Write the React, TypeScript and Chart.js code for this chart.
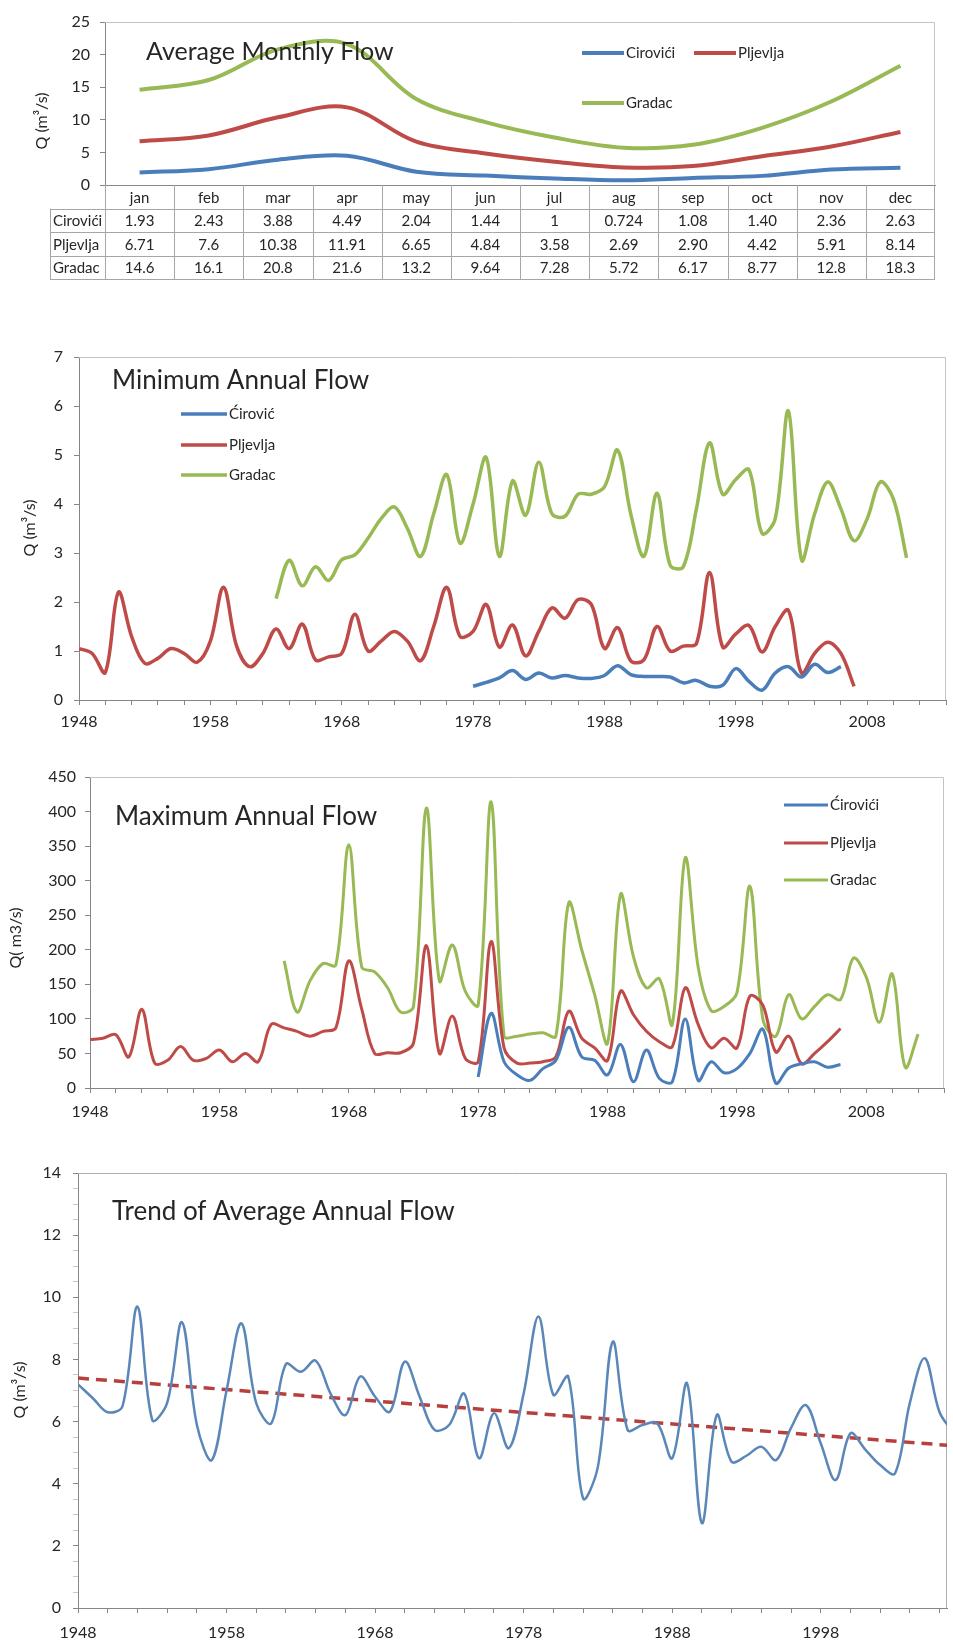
import React, { useEffect, useRef } from "react";
import { Chart, registerables } from "chart.js";

Chart.register(...registerables);

// ---------------- data ----------------
const months = ["jan", "feb", "mar", "apr", "may", "jun", "jul", "aug", "sep", "oct", "nov", "dec"];
const monthlyStations = ["Cirovići", "Pljevlja", "Gradac"];
const ciroviciMonthly = ["1.93", "2.43", "3.88", "4.49", "2.04", "1.44", "1", "0.724", "1.08", "1.40", "2.36", "2.63"];
const pljevljaMonthly = ["6.71", "7.6", "10.38", "11.91", "6.65", "4.84", "3.58", "2.69", "2.90", "4.42", "5.91", "8.14"];
const gradacMonthly = ["14.6", "16.1", "20.8", "21.6", "13.2", "9.64", "7.28", "5.72", "6.17", "8.77", "12.8", "18.3"];

const yearTickLabels = [1948, 1958, 1968, 1978, 1988, 1998, 2008];

const minStations = ["Ćirović", "Pljevlja", "Gradac"];
const minCirovicStart = 1978;
const minCirovic = [
  0.28, 0.36, 0.45, 0.6, 0.42, 0.55, 0.45, 0.5, 0.45, 0.44,
  0.5, 0.7, 0.52, 0.48, 0.48, 0.47, 0.35, 0.4, 0.28, 0.3,
  0.64, 0.38, 0.2, 0.55, 0.68, 0.47, 0.73, 0.56, 0.68,
];
const minPljevljaStart = 1948;
const minPljevlja = [
  1.05, 0.95, 0.56, 2.2, 1.3, 0.75, 0.85, 1.05, 0.95, 0.77,
  1.2, 2.3, 1.1, 0.68, 0.95, 1.45, 1.05, 1.55, 0.82, 0.88,
  0.95, 1.75, 1.0, 1.2, 1.4, 1.2, 0.8, 1.5, 2.3, 1.3,
  1.4, 1.95, 1.08, 1.53, 0.9, 1.4, 1.88, 1.67, 2.05, 1.95,
  1.05, 1.48, 0.8, 0.82, 1.5, 1.0, 1.1, 1.15, 2.6, 1.08,
  1.35, 1.52, 0.98, 1.5, 1.83, 0.55, 0.95, 1.18, 0.95, 0.28,
];
const minGradacStart = 1963;
const minGradac = [
  2.07, 2.85, 2.33, 2.72, 2.44, 2.86, 2.96, 3.3, 3.7, 3.94,
  3.5, 2.93, 3.8, 4.6, 3.2, 4.0, 4.95, 2.93, 4.47, 3.77,
  4.85, 3.8, 3.75, 4.2, 4.2, 4.35, 5.1, 3.8, 2.93, 4.22,
  2.75, 2.72, 3.9, 5.25, 4.2, 4.5, 4.7, 3.4, 3.7, 5.9,
  2.86, 3.8, 4.45, 3.9, 3.25, 3.7, 4.45, 4.1, 2.9,
];

const maxStations = ["Ćirovići", "Pljevlja", "Gradac"];
const maxCirovicStart = 1978;
const maxCirovic = [
  16, 108, 38, 19, 11, 28, 40, 88, 45, 40,
  19, 63, 9, 55, 14, 9, 100, 11, 38, 22,
  28, 50, 85, 7, 29, 35, 38, 30, 34,
];
const maxPljevljaStart = 1948;
const maxPljevlja = [
  70, 72, 77, 45, 114, 36, 40, 60, 40, 43,
  55, 38, 50, 38, 92, 87, 82, 75, 82, 87,
  184, 114, 50, 51, 51, 65, 206, 50, 104, 43,
  38, 212, 58, 36, 36, 38, 45, 111, 72, 58,
  40, 140, 106, 82, 67, 60, 145, 92, 58, 72,
  58, 133, 120, 52, 75, 35, 50, 67, 86,
];
const maxGradacStart = 1963;
const maxGradac = [
  184, 110, 155, 180, 178, 352, 175, 168, 145, 110,
  118, 405, 155, 207, 140, 120, 414, 75, 75, 78,
  80, 75, 268, 200, 135, 65, 280, 190, 145, 158,
  92, 333, 175, 112, 118, 138, 292, 100, 75, 135,
  100, 118, 135, 128, 188, 160, 95, 165, 30, 78,
];

const avgLabel = "Average annual flow";
const avgStart = 1948;
const avgAnnual = [
  7.2, 6.75, 6.3, 6.5, 9.7, 6.05, 6.6, 9.2, 5.9, 4.76,
  7.0, 9.16, 6.59, 5.94, 7.85, 7.6, 7.96, 6.9, 6.21, 7.45,
  6.8, 6.32, 7.93, 6.8, 5.73, 5.9, 6.9, 4.82, 6.27, 5.14,
  6.9, 9.38, 6.86, 7.45, 3.53, 4.55, 8.57, 5.73, 5.89, 5.94,
  4.82, 7.23, 2.73, 6.21, 4.71, 4.9, 5.19, 4.76, 5.8, 6.53,
  5.3, 4.12, 5.62, 5.1, 4.6, 4.33, 6.6, 8.04, 6.3, 5.6,
];
const trendLabel = "Linear trend";
const trendYears = [1948, 2007];
const trendValues = [7.4, 5.22];

// ---------------- style ----------------
const FONT = "Lato, 'Open Sans', 'DejaVu Sans', sans-serif";
const TEXT = "#262626";
const AXIS = "#868686";
const FRAME = "#c4c4c4";
const BLUE = "#4A7EBB";
const RED = "#BE4B48";
const GREEN = "#98B954";
const PAGE_W = 953;

const pts = (start: number, vals: number[]) => vals.map((v, i) => ({ x: start + i, y: v }));

const decor = {
  id: "decor",
  beforeDatasetsDraw(chart: any, _a: any, o: any) {
    const { ctx, chartArea: a } = chart;
    ctx.save();
    ctx.strokeStyle = o.frame || FRAME;
    ctx.lineWidth = 1;
    ctx.beginPath();
    ctx.moveTo(a.left, Math.round(a.top) + 0.5);
    ctx.lineTo(Math.round(a.right) - 0.5, Math.round(a.top) + 0.5);
    ctx.lineTo(Math.round(a.right) - 0.5, a.bottom);
    ctx.stroke();
    ctx.restore();
  },
  afterDraw(chart: any, _a: any, o: any) {
    const ctx = chart.ctx;
    ctx.save();
    ctx.fillStyle = TEXT;
    if (o.title) {
      ctx.font = `${o.title.size}px ${FONT}`;
      ctx.textAlign = "left";
      ctx.textBaseline = "middle";
      ctx.fillText(o.title.text, o.title.x, o.title.y);
    }
    if (o.yTitle) {
      ctx.save();
      ctx.translate(o.yTitle.x, o.yTitle.y);
      ctx.rotate(-Math.PI / 2);
      ctx.font = `${o.yTitle.size}px ${FONT}`;
      ctx.textAlign = "center";
      ctx.textBaseline = "middle";
      ctx.fillText(o.yTitle.text, 0, 0);
      ctx.restore();
    }
    (o.legend || []).forEach((p: any, i: number) => {
      const ds = chart.data.datasets[i];
      ctx.strokeStyle = ds.borderColor;
      ctx.lineWidth = p.w;
      ctx.lineCap = "butt";
      ctx.beginPath();
      ctx.moveTo(p.x, p.y);
      ctx.lineTo(p.x + p.len, p.y);
      ctx.stroke();
      ctx.fillStyle = TEXT;
      ctx.font = `${p.size}px ${FONT}`;
      ctx.textAlign = "left";
      ctx.textBaseline = "middle";
      ctx.fillText(ds.label, p.x + p.len + 2, p.y);
    });
    if (o.table) {
      const t = o.table;
      const a = chart.chartArea;
      const xs = chart.scales.x;
      const n = chart.data.labels.length;
      const colW = (a.right - a.left) / n;
      const top = a.bottom;
      const rows = t.rows;
      const bottom = top + t.rowH * (rows.length + 1);
      ctx.strokeStyle = t.line;
      ctx.lineWidth = 1;
      ctx.beginPath();
      for (let r = 1; r <= rows.length + 1; r++) {
        const y = Math.round(top + r * t.rowH) + 0.5;
        ctx.moveTo(t.left, y);
        ctx.lineTo(a.right, y);
      }
      for (let c = 0; c <= n; c++) {
        const x = Math.round(a.left + c * colW) - (c === n ? 0.5 : -0.5);
        ctx.moveTo(x, top);
        ctx.lineTo(x, bottom);
      }
      ctx.moveTo(t.left + 0.5, top + t.rowH);
      ctx.lineTo(t.left + 0.5, bottom);
      ctx.stroke();
      ctx.fillStyle = TEXT;
      ctx.font = `${t.size}px ${FONT}`;
      ctx.textBaseline = "middle";
      ctx.textAlign = "center";
      chart.data.labels.forEach((m: string, i: number) => ctx.fillText(m, xs.getPixelForValue(i), top + t.rowH / 2 + 1));
      rows.forEach((row: any, r: number) => {
        const cy = top + t.rowH * (r + 1.5) + 1;
        ctx.textAlign = "left";
        ctx.fillText(row.label, t.left + 3, cy);
        ctx.textAlign = "center";
        row.texts.forEach((s: string, i: number) => ctx.fillText(s, xs.getPixelForValue(i), cy));
      });
    }
    ctx.restore();
  },
};

type Area = { left: number; right: number; top: number; bottom: number };

function baseOptions(area: Area, canvasTop: number, H: number) {
  return {
    layout: { padding: { left: 0, right: PAGE_W - area.right, top: area.top - canvasTop, bottom: 0 } },
    xFit: (s: any) => {
      s.height = H - (area.bottom - canvasTop);
    },
    yFit: (s: any) => {
      s.width = area.left;
    },
  };
}

const tickFont = { family: FONT, size: 16 };

function yearAxis(min: number, max: number, fit: any, pad: number) {
  return {
    type: "linear",
    min,
    max,
    afterFit: fit,
    ticks: {
      stepSize: 2,
      autoSkip: false,
      includeBounds: false,
      maxRotation: 0,
      padding: pad,
      color: TEXT,
      font: tickFont,
      callback: (v: number) => (yearTickLabels.includes(v) ? String(v) : ""),
    },
    grid: { drawOnChartArea: false, tickLength: 5, color: AXIS },
    border: { color: AXIS },
  };
}

function valueAxis(max: number, step: number, fit: any, pad: number) {
  return {
    type: "linear",
    min: 0,
    max,
    afterFit: fit,
    ticks: { stepSize: step, padding: pad, color: TEXT, font: tickFont },
    grid: { drawOnChartArea: false, tickLength: 5, color: AXIS },
    border: { color: AXIS },
  };
}

// canvas bands (page y)
const BAND1 = { top: 0, height: 320 };
const BAND2 = { top: 320, height: 420 };
const BAND3 = { top: 740, height: 400 };
const BAND4 = { top: 1140, height: 501 };

// ---------------- chart configs ----------------
function monthlyConfig() {
  const top = BAND1.top, H = BAND1.height;
  const area = { left: 105, right: 935, top: 22, bottom: 185 };
  const b = baseOptions(area, top, H);
  return {
    type: "line",
    data: {
      labels: months,
      datasets: [
        { label: monthlyStations[0], data: ciroviciMonthly.map(Number), borderColor: BLUE, borderWidth: 4, pointRadius: 0, tension: 0.35 },
        { label: monthlyStations[1], data: pljevljaMonthly.map(Number), borderColor: RED, borderWidth: 4, pointRadius: 0, tension: 0.35 },
        { label: monthlyStations[2], data: gradacMonthly.map(Number), borderColor: GREEN, borderWidth: 4, pointRadius: 0, tension: 0.35 },
      ],
    },
    options: {
      responsive: false,
      animation: false,
      devicePixelRatio: 1,
      layout: b.layout,
      scales: {
        x: {
          type: "category",
          offset: true,
          afterFit: b.xFit,
          ticks: { display: false },
          grid: { display: false },
          border: { color: AXIS },
        },
        y: valueAxis(25, 5, b.yFit, 10),
      },
      plugins: {
        legend: { display: false },
        tooltip: { enabled: false },
        decor: {
          title: { text: "Average Monthly Flow", x: 146, y: 52, size: 25 },
          yTitle: { text: "Q (m³/s)", x: 42, y: 121, size: 16 },
          legend: [
            { x: 582, y: 53, len: 42, w: 4, size: 15 },
            { x: 694, y: 53, len: 42, w: 4, size: 15 },
            { x: 582, y: 103, len: 42, w: 4, size: 15 },
          ],
          table: {
            left: 50,
            rowH: 23.5,
            size: 15,
            line: "#a6a6a6",
            rows: [
              { label: monthlyStations[0], texts: ciroviciMonthly },
              { label: monthlyStations[1], texts: pljevljaMonthly },
              { label: monthlyStations[2], texts: gradacMonthly },
            ],
          },
        },
      },
    },
    plugins: [decor],
  };
}

function minConfig() {
  const top = BAND2.top, H = BAND2.height;
  const area = { left: 79, right: 948, top: 357, bottom: 700 };
  const b = baseOptions(area, top, H);
  return {
    type: "line",
    data: {
      datasets: [
        { label: minStations[0], data: pts(minCirovicStart, minCirovic), borderColor: BLUE, borderWidth: 3.5, pointRadius: 0, tension: 0.35 },
        { label: minStations[1], data: pts(minPljevljaStart, minPljevlja), borderColor: RED, borderWidth: 3.5, pointRadius: 0, tension: 0.35 },
        { label: minStations[2], data: pts(minGradacStart, minGradac), borderColor: GREEN, borderWidth: 3.5, pointRadius: 0, tension: 0.35 },
      ],
    },
    options: {
      responsive: false,
      animation: false,
      devicePixelRatio: 1,
      layout: b.layout,
      scales: {
        x: yearAxis(1948, 2014, b.xFit, 7),
        y: valueAxis(7, 1, b.yFit, 11),
      },
      plugins: {
        legend: { display: false },
        tooltip: { enabled: false },
        decor: {
          title: { text: "Minimum Annual Flow", x: 112, y: 381 - top, size: 26 },
          yTitle: { text: "Q (m³/s)", x: 30, y: 528 - top, size: 16 },
          legend: [
            { x: 181, y: 414 - top, len: 46, w: 3.5, size: 15 },
            { x: 181, y: 445 - top, len: 46, w: 3.5, size: 15 },
            { x: 181, y: 475 - top, len: 46, w: 3.5, size: 15 },
          ],
        },
      },
    },
    plugins: [decor],
  };
}

function maxConfig() {
  const top = BAND3.top, H = BAND3.height;
  const area = { left: 90, right: 948, top: 777, bottom: 1088 };
  const b = baseOptions(area, top, H);
  return {
    type: "line",
    data: {
      datasets: [
        { label: maxStations[0], data: pts(maxCirovicStart, maxCirovic), borderColor: BLUE, borderWidth: 3, pointRadius: 0, tension: 0.35 },
        { label: maxStations[1], data: pts(maxPljevljaStart, maxPljevlja), borderColor: RED, borderWidth: 3, pointRadius: 0, tension: 0.35 },
        { label: maxStations[2], data: pts(maxGradacStart, maxGradac), borderColor: GREEN, borderWidth: 3, pointRadius: 0, tension: 0.35 },
      ],
    },
    options: {
      responsive: false,
      animation: false,
      devicePixelRatio: 1,
      layout: b.layout,
      scales: {
        x: yearAxis(1948, 2014, b.xFit, 9),
        y: valueAxis(450, 50, b.yFit, 9),
      },
      plugins: {
        legend: { display: false },
        tooltip: { enabled: false },
        decor: {
          title: { text: "Maximum Annual Flow", x: 115, y: 817 - top, size: 26 },
          yTitle: { text: "Q( m3/s)", x: 16, y: 938 - top, size: 16 },
          legend: [
            { x: 784, y: 805 - top, len: 44, w: 3, size: 15 },
            { x: 784, y: 843 - top, len: 44, w: 3, size: 15 },
            { x: 784, y: 880 - top, len: 44, w: 3, size: 15 },
          ],
        },
      },
    },
    plugins: [decor],
  };
}

function trendConfig() {
  const top = BAND4.top, H = BAND4.height;
  const area = { left: 78, right: 947, top: 1173, bottom: 1608 };
  const b = baseOptions(area, top, H);
  const yAx: any = valueAxis(14, 0.5, b.yFit, 12);
  yAx.ticks.autoSkip = false;
  yAx.ticks.callback = (v: number) => (v % 2 === 0 ? String(v) : "");
  yAx.grid.tickColor = (c: any) => (c.tick && c.tick.value % 2 === 0 ? AXIS : "rgba(134,134,134,0.45)");
  return {
    type: "line",
    data: {
      datasets: [
        { label: avgLabel, data: pts(avgStart, avgAnnual), borderColor: "#5B87B8", borderWidth: 2.5, pointRadius: 0, tension: 0.35 },
        {
          label: trendLabel,
          data: trendYears.map((y, i) => ({ x: y, y: trendValues[i] })),
          borderColor: "#B5403E",
          borderWidth: 3.5,
          borderDash: [11, 7],
          pointRadius: 0,
          tension: 0,
        },
      ],
    },
    options: {
      responsive: false,
      animation: false,
      devicePixelRatio: 1,
      layout: b.layout,
      scales: {
        x: yearAxis(1948, 2006.5, b.xFit, 10),
        y: yAx,
      },
      plugins: {
        legend: { display: false },
        tooltip: { enabled: false },
        decor: {
          frame: "#b0b0b0",
          title: { text: "Trend of Average Annual Flow", x: 112, y: 1212 - top, size: 26 },
          yTitle: { text: "Q (m³/s)", x: 20, y: 1390 - top, size: 16 },
          legend: [],
        },
      },
    },
    plugins: [decor],
  };
}

function ChartCanvas({ top, height, make }: { top: number; height: number; make: () => any }) {
  const ref = useRef<HTMLCanvasElement | null>(null);
  useEffect(() => {
    if (!ref.current) return;
    const c = new Chart(ref.current, make());
    return () => c.destroy();
  }, []);
  return (
    <canvas
      ref={ref}
      width={PAGE_W}
      height={height}
      style={{ position: "absolute", left: 0, top, width: PAGE_W, height, display: "block" }}
    />
  );
}

export default function App() {
  return (
    <div style={{ position: "absolute", left: 0, top: 0, width: PAGE_W, height: 1641, background: "#fff", overflow: "hidden" }}>
      <ChartCanvas top={BAND1.top} height={BAND1.height} make={monthlyConfig} />
      <ChartCanvas top={BAND2.top} height={BAND2.height} make={minConfig} />
      <ChartCanvas top={BAND3.top} height={BAND3.height} make={maxConfig} />
      <ChartCanvas top={BAND4.top} height={BAND4.height} make={trendConfig} />
    </div>
  );
}
